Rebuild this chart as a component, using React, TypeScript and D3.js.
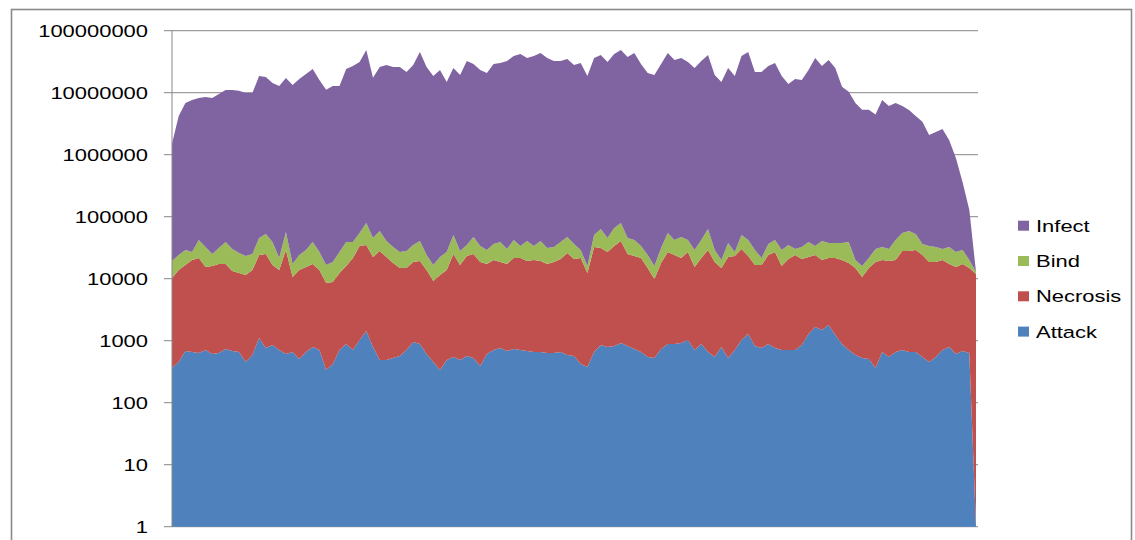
import React from "react";
import * as d3 from "d3";

const seriesNames = ["Attack", "Necrosis", "Bind", "Infect"];
const legendOrder = ["Infect", "Bind", "Necrosis", "Attack"];
const colors: Record<string, string> = {
  Attack: "#4F81BD",
  Necrosis: "#C0504D",
  Bind: "#9BBB59",
  Infect: "#8064A2",
};

const attack = [
  363, 453, 682, 657, 634, 708, 610, 634, 735, 682,
  657, 453, 588, 1107, 763, 853, 708, 610, 657, 507,
  657, 792, 708, 337, 421, 708, 885, 708, 1027, 1433,
  792, 489, 489, 526, 567, 708, 953, 885, 610, 453,
  337, 489, 546, 489, 567, 526, 391, 610, 708, 763,
  682, 735, 708, 682, 657, 657, 634, 634, 657, 588,
  567, 421, 377, 657, 853, 792, 822, 918, 822, 735,
  657, 546, 526, 735, 885, 885, 918, 1027, 708, 885,
  657, 546, 792, 526, 708, 1027, 1283, 822, 763, 885,
  763, 708, 708, 708, 853, 1283, 1663, 1489, 1791, 1236,
  885, 708, 588, 526, 507, 363, 657, 546, 657, 708,
  657, 657, 546, 453, 546, 708, 792, 610, 682, 634,
  1,
];

const necrosis = [
  9900, 13360, 15950, 19360, 20940, 14730, 15410, 16630, 16520, 12620,
  11690, 11010, 13220, 23000, 24260, 15780, 13100, 28420, 9980, 13300,
  14780, 16470, 13100, 8170, 8420, 11640, 15140, 20860, 32650, 33530,
  21590, 27480, 21890, 17380, 14300, 14160, 17640, 18400, 13200, 8720,
  11120, 13320, 24470, 16140, 22660, 24490, 18200, 16650, 19310, 17830,
  16580, 20840, 20860, 18610, 19360, 18630, 16630, 17960, 20120, 25380,
  20210, 21150, 11970, 31790, 30420, 26160, 32860, 39630, 24200, 22500,
  20910, 14320, 9350, 17180, 26070, 23230, 20650, 25920, 14730, 20690,
  28370, 18040, 14080, 21850, 22520, 29100, 21950, 15810, 15870, 23230,
  26190, 15310, 20070, 23400, 19930, 21100, 22450, 18530, 19780, 20330,
  19140, 17200, 14280, 10110, 14360, 18230, 19360, 18740, 19360, 27260,
  27310, 28370, 23560, 18140, 18040, 19310, 16470, 14830, 16580, 14240,
  11900,
];

const bind = [
  9030, 10300, 12400, 6930, 20530, 17010, 9000, 14010, 21820, 16830,
  13620, 11770, 11210, 21190, 27580, 22450, 7760, 27670, 6620, 10300,
  13590, 21820, 13140, 8120, 9750, 14600, 23060, 17510, 20920, 44140,
  22920, 30830, 18170, 14540, 12080, 13100, 16370, 21260, 10300, 7460,
  10920, 13140, 25680, 11340, 11730, 22080, 15090, 11770, 16260, 20490,
  12870, 20530, 12110, 21260, 13660, 21260, 14010, 13860, 18300, 21130,
  15500, 7460, 3670, 18250, 32030, 18350, 32020, 38550, 20280, 18870,
  12110, 9240, 6140, 13360, 27650, 17990, 25530, 15150, 13590, 20530,
  34270, 10440, 5150, 15270, 3720, 20570, 18870, 12400, 4940, 12170,
  15150, 13010, 14180, 6020, 11670, 16700, 9570, 20530, 16080, 16080,
  17630, 21170, 5150, 5380, 6700, 11540, 12430, 10840, 22080, 26630,
  30830, 23570, 12170, 15090, 13860, 10110, 15190, 11510, 11770, 5150,
  920,
];

const infect = [
  1480000, 4180000, 6770000, 7570000, 8160000, 8470000, 8170000, 9470000, 11000000, 11000000,
  10700000, 9880000, 9870000, 18550000, 17800000, 14300000, 12800000, 17200000, 13300000, 16600000,
  20000000, 24100000, 16000000, 11100000, 12800000, 12800000, 24100000, 27000000, 31300000, 48800000,
  17300000, 26000000, 28000000, 26000000, 26000000, 21600000, 28000000, 45400000, 26000000, 18600000,
  23200000, 14900000, 25000000, 19300000, 32500000, 29000000, 23200000, 20800000, 29000000, 30000000,
  32500000, 39000000, 42000000, 36300000, 39000000, 43700000, 36300000, 32500000, 32500000, 35000000,
  28000000, 30000000, 18600000, 36300000, 40500000, 31300000, 42000000, 48800000, 37700000, 43700000,
  29000000, 20800000, 19300000, 29000000, 43600000, 33700000, 36300000, 31300000, 25000000, 32500000,
  40500000, 19300000, 14900000, 25000000, 18600000, 39000000, 45400000, 21600000, 21600000, 27000000,
  30000000, 18600000, 13800000, 16600000, 16000000, 23200000, 36300000, 27000000, 33700000, 25000000,
  12400000, 10300000, 6800000, 5300000, 5300000, 4400000, 7600000, 6100000, 6800000, 6050000,
  5200000, 4150000, 3360000, 2050000, 2290000, 2570000, 1670000, 860000, 330000, 110000,
  0,
];

const yTicks = [1, 10, 100, 1000, 10000, 100000, 1000000, 10000000, 100000000];

const W = 1135;
const H = 540;
const plotLeft = 172;
const plotRight = 977;
const plotTop = 30.7;
const plotBottom = 526.7;

const labelFont = "'Liberation Sans', Arial, sans-serif";
const stretch = 1.33;

export default function App() {
  const rows = attack.map((_, i) => ({
    idx: i,
    Attack: attack[i],
    Necrosis: necrosis[i],
    Bind: bind[i],
    Infect: infect[i],
  }));

  const x = d3.scaleLinear().domain([0, rows.length - 1]).range([plotLeft, plotRight - 1]);
  const y = d3.scaleLog().domain([1, 1e8]).range([plotBottom, plotTop]).clamp(true);

  const stacked = d3.stack<any>().keys(seriesNames)(rows);
  const area = d3
    .area<any>()
    .x((d) => x(d.data.idx))
    .y0((d) => y(Math.max(1, d[0])))
    .y1((d) => y(Math.max(1, d[1])));

  const legendY0 = 225.7;
  const legendStep = 35.3;

  return (
    <div style={{ position: "absolute", left: 0, top: 0 }}>
      <svg width={W} height={H} style={{ display: "block", background: "#fff" }}>
        <rect x={11.5} y={9.5} width={1120} height={560} fill="#fff" stroke="#8a8a8a" strokeWidth={1.6} />
        {yTicks.map((t) => (
          <line key={"g" + t} x1={plotLeft} x2={978} y1={y(t)} y2={y(t)} stroke="#878787" strokeWidth={1} />
        ))}
        {stacked.map((s) => (
          <path key={s.key} d={area(s as any) || ""} fill={colors[s.key]} stroke="none" />
        ))}
        <line x1={plotLeft} x2={plotLeft} y1={plotTop} y2={plotBottom} stroke="#878787" strokeWidth={1} />
        {yTicks.map((t) => (
          <line key={"t" + t} x1={164} x2={plotLeft} y1={y(t)} y2={y(t)} stroke="#878787" strokeWidth={1} />
        ))}
        {yTicks.map((t) => (
          <text
            key={"l" + t}
            transform={`translate(148, ${y(t)}) scale(${stretch}, 1)`}
            textAnchor="end"
            dy="0.36em"
            fontFamily={labelFont}
            fontSize={16.5}
            fill="#000"
          >
            {String(t)}
          </text>
        ))}
        {legendOrder.map((k, i) => {
          const cy = legendY0 + i * legendStep;
          return (
            <g key={"lg" + k}>
              <rect x={1018} y={cy - 5} width={11} height={10} fill={colors[k]} />
              <text
                transform={`translate(1036, ${cy}) scale(${stretch}, 1)`}
                dy="0.36em"
                fontFamily={labelFont}
                fontSize={16.5}
                fill="#000"
              >
                {k}
              </text>
            </g>
          );
        })}
      </svg>
    </div>
  );
}
